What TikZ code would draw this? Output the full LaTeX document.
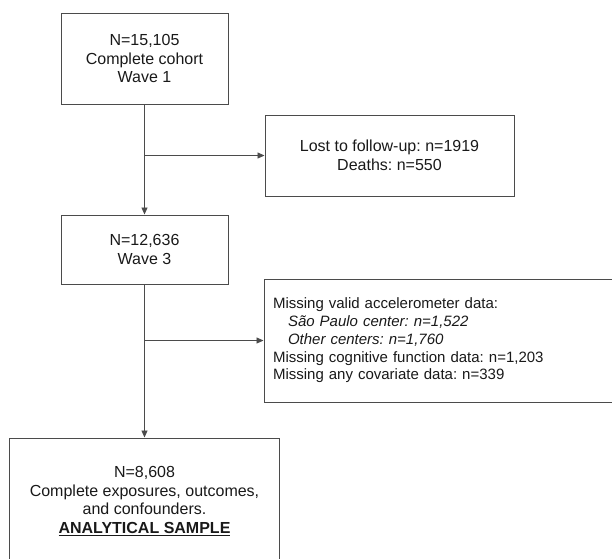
\documentclass[tikz,border=0pt]{standalone}
\usepackage{fontspec}
\setmainfont{Liberation Sans}
\frenchspacing
\usetikzlibrary{
    arrows.meta,
    positioning
}
\definecolor{linegray}{RGB}{75,75,75}
\definecolor{textblack}{RGB}{25,25,25}

\begin{document}
\begin{tikzpicture}[
        x=1pt, y=1pt,
        node distance=1.5cm,
        box/.style={draw=linegray, line width=1pt, align=center, text=textblack, font=\fontsize{16}{18.5}\selectfont},
        arrow/.style={-{Triangle[length=7pt, width=6pt]}, draw=linegray, line width=0.9pt}
    ]
        \useasboundingbox (0,0) rectangle (612,-558);
        \clip (0,0) rectangle (612,-558);

        % Wave 1
        \node[box, minimum width=167pt, minimum height=91pt] (cohort) at (144.5,-58.5) {N=15,105\\Complete cohort\\Wave 1};

        % Lost
        \node[box, minimum width=249pt, minimum height=81pt, below right=10pt and 36pt of cohort.south east] (lost) {Lost to follow-up: n=1919\\Deaths: n=550};

        % Wave 3
        \node[box, minimum width=167pt, minimum height=69pt, below=110pt of cohort] (wave3) {N=12,636\\Wave 3};

        % Missing
        \node[box, align=left, font=\fontsize{15}{17.7}\selectfont, text width=338pt, inner xsep=9pt, minimum height=123pt, below right=-6pt and 35pt of wave3.south east] (missing) {Missing valid accelerometer data:\\
            \hspace*{1em}\textit{São Paulo center: n=1,522}\\
            \hspace*{1em}\textit{Other centers: n=1,760}\\
            Missing cognitive function data: n=1,203\\
            Missing any covariate data: n=339};

        % Sample
        \node[box, minimum width=270pt, minimum height=126pt, below=153pt of wave3] (sample) {N=8,608\\Complete exposures, outcomes,\\and confounders.\\\underline{\textbf{ANALYTICAL SAMPLE}}};

        % Arrows
        \coordinate (split1) at (cohort.south |- lost.west);
        \coordinate (split2) at (wave3.south |- missing.west);
        \draw[arrow] (cohort) -- (wave3);
        \draw[arrow] (split1) -- (lost);
        \draw[arrow] (wave3) -- (sample);
        \draw[arrow] (split2) -- (missing);

    \end{tikzpicture}
\end{document}
